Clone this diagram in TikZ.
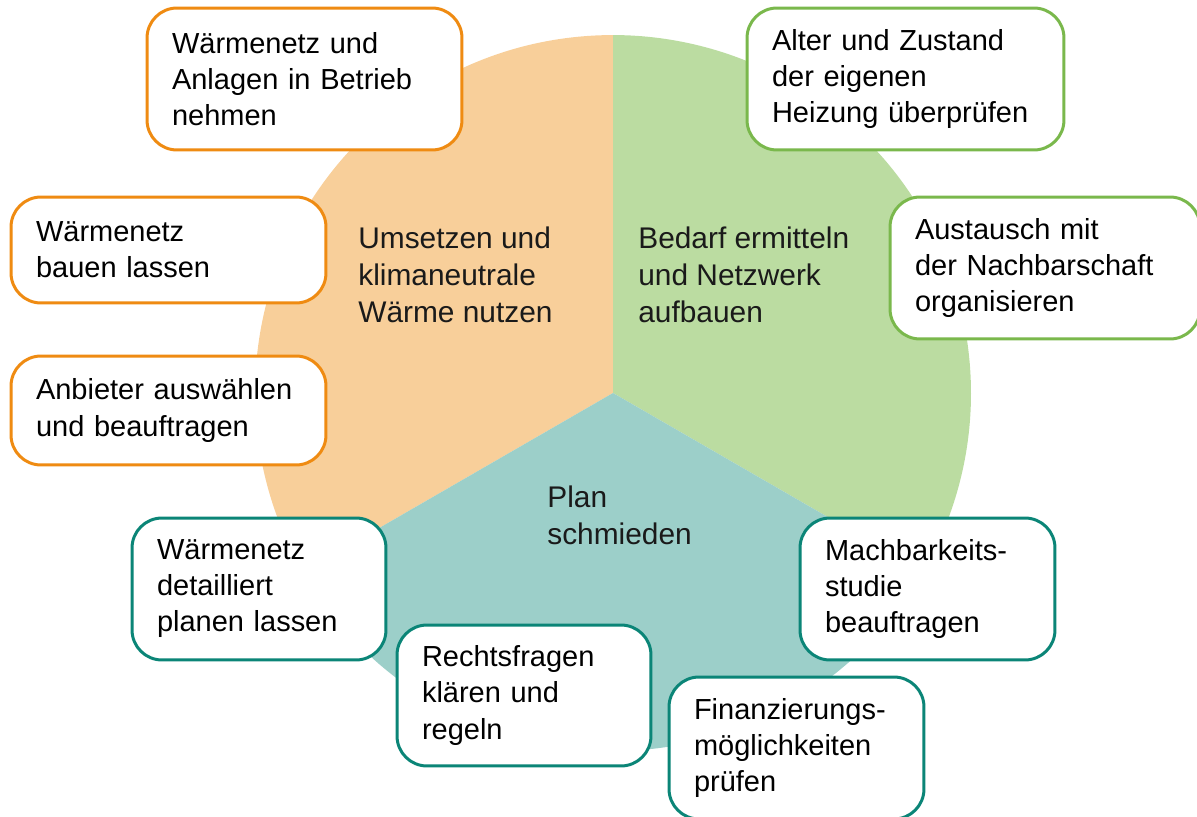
\documentclass[tikz,border=0pt]{standalone}
\usepackage{fontspec}
\setmainfont{Liberation Sans}
\definecolor{orangefill}{HTML}{F8CF9A}
\definecolor{greenfill}{HTML}{BBDCA1}
\definecolor{tealfill}{HTML}{9CCFC9}
\definecolor{orangeline}{HTML}{EF8B12}
\definecolor{greenline}{HTML}{7AB84C}
\definecolor{tealline}{HTML}{0B8577}
\definecolor{labeltext}{HTML}{1A1A1A}

\begin{document}
\begin{tikzpicture}[x=0.02cm,y=0.02cm,
	box/.style={draw,line width=1.7pt,fill=white,rounded corners=0.6cm,align=left,inner xsep=0.5cm,inner ysep=0pt,font=\fontsize{16.5}{20.5}\selectfont},
	orangebox/.style={box,draw=orangeline},
	greenbox/.style={box,draw=greenline},
	tealbox/.style={box,draw=tealline},
	steplabel/.style={anchor=west,inner sep=0pt,align=left,text=labeltext,font=\fontsize{17}{21}\selectfont}]
	\useasboundingbox (0,0) rectangle (1197,816);
	
	%PIE
	\coordinate (c) at (613,423);
	\fill[orangefill] (c) -- ++(90:7.16cm) arc[start angle=90,end angle=210,radius=7.16cm] -- cycle;
	\fill[greenfill] (c) -- ++(-30:7.16cm) arc[start angle=-30,end angle=90,radius=7.16cm] -- cycle;
	\fill[tealfill] (c) -- ++(210:7.16cm) arc[start angle=210,end angle=330,radius=7.16cm] -- cycle;
	
	%LABELS
	\node[steplabel] (umsetzen) at (358,541) {Umsetzen und\\klimaneutrale\\Wärme nutzen};
	\node[steplabel] (bedarf) at (638,541) {Bedarf ermitteln\\und Netzwerk\\aufbauen};
	\node[steplabel] (plan) at (547,301) {Plan\\schmieden};
	
	%ORANGE BOXES
	\node[orangebox,text width=5.3cm,minimum height=2.84cm] (betrieb) at (304.5,737) {Wärmenetz und\\Anlagen in Betrieb\\nehmen};
	\node[orangebox,text width=5.3cm,minimum height=2.12cm] (bauen) at (168.5,566) {Wärmenetz\\bauen lassen};
	\node[orangebox,text width=5.3cm,minimum height=2.18cm] (anbieter) at (168.5,405.5) {Anbieter auswählen\\und beauftragen};
	
	%GREEN BOXES
	\node[greenbox,text width=5.34cm,minimum height=2.84cm] (heizung) at (905.5,737) {Alter und Zustand\\der eigenen\\Heizung überprüfen};
	\node[greenbox,text width=5.2cm,minimum height=2.84cm] (austausch) at (1045,548) {Austausch mit\\der Nachbarschaft\\organisieren};
	
	%TEAL BOXES
	\node[tealbox,text width=4.08cm,minimum height=2.84cm] (detail) at (259,227) {Wärmenetz\\detailliert\\planen lassen};
	\node[tealbox,text width=4.08cm,minimum height=2.82cm] (recht) at (524,120.5) {Rechtsfragen\\klären und\\regeln};
	\node[tealbox,text width=4.1cm,minimum height=2.84cm] (studie) at (927.5,227) {Machbarkeits-\\studie\\beauftragen};
	\node[tealbox,text width=4.1cm,minimum height=2.84cm] (finanz) at (796.5,68) {Finanzierungs-\\möglichkeiten\\prüfen};
\end{tikzpicture}
\end{document}
